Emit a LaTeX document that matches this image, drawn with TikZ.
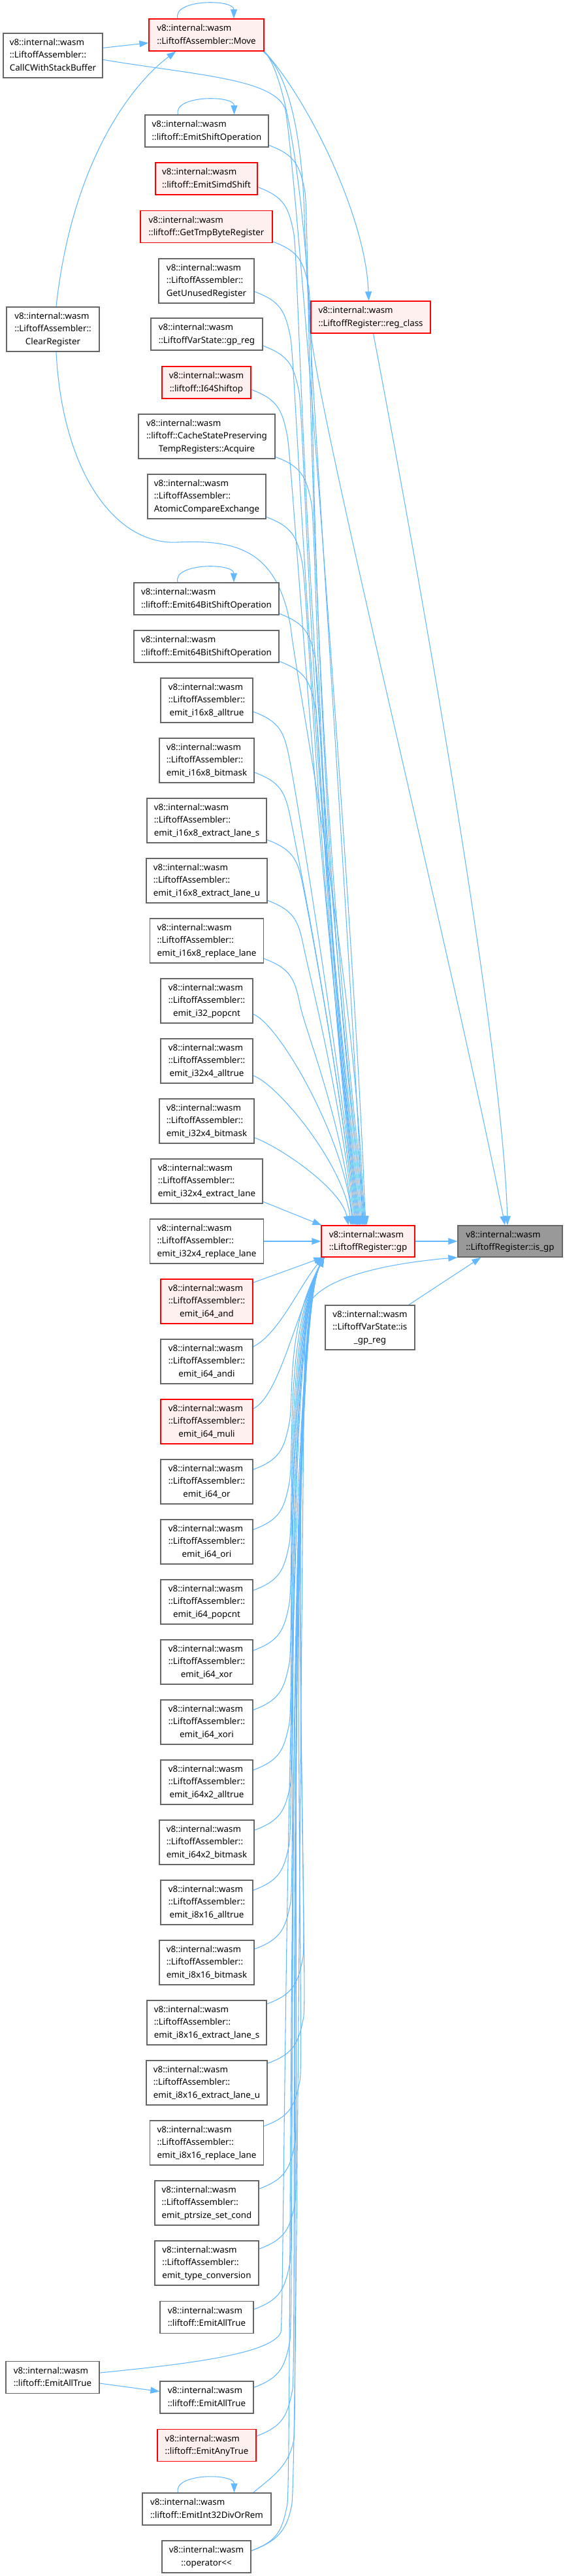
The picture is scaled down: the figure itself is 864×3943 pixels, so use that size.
\documentclass[tikz,border=0pt]{standalone}
\usepackage{fontspec}
\setmainfont{Noto Sans}
\usetikzlibrary{arrows.meta,calc}
\definecolor{edgeblue}{HTML}{63B8FF}
\definecolor{nodeborder}{HTML}{666666}
\definecolor{redfill}{HTML}{FFF0F0}
\definecolor{focusfill}{HTML}{999999}
\pgfdeclarelayer{back}
\pgfdeclarelayer{edges}
\pgfsetlayers{back,edges,main}
\newcommand\TL[3]{\begin{tabular}{@{}l@{}}#1\\#2\\\multicolumn{1}{@{}c@{}}{#3}\end{tabular}}
\newcommand\DL[2]{\begin{tabular}{@{}l@{}}#1\\\multicolumn{1}{@{}c@{}}{#2}\end{tabular}}
\newcommand\vw{v8::internal::wasm}
\newcommand\la{::LiftoffAssembler::}
\newcommand\dnode[7][box]{\node[#1, minimum width={#5*0.75pt}, minimum height={#6*0.75pt}] (#2) at (#3,#4) {#7};}
\begin{document}
\begin{tikzpicture}[x=0.75pt,y=-0.75pt,
  box/.style={draw=nodeborder, line width=1pt, fill=white, inner sep=0pt, text=black, font=\fontsize{10}{14.6}\selectfont},
  redbox/.style={box, draw=red, fill=redfill},
  focus/.style={box, fill=focusfill},
  edge/.style={draw=edgeblue, line width=0.8pt, -{Triangle[length=10.5pt,width=7.5pt]}}]
\useasboundingbox (0,0) rectangle (864,3943);
\begin{pgfonlayer}{back}\fill[white] (0,0) rectangle (864,3943);\end{pgfonlayer}

% ---------- nodes ----------
\dnode[redbox]{move}{316}{53.5}{176}{49}{\DL{\vw}{::LiftoffAssembler::Move}}
\dnode{callc}{81}{85}{152}{68}{\TL{\vw}{\la}{CallCWithStackBuffer}}
\dnode{shiftop}{316.5}{200.5}{189}{49}{\DL{\vw}{::liftoff::EmitShiftOperation}}
\dnode[redbox]{simdshift}{316}{273.5}{156}{49}{\DL{\vw}{::liftoff::EmitSimdShift}}
\dnode[redbox]{tmpbyte}{316}{347}{202}{49}{\DL{\vw}{::liftoff::GetTmpByteRegister}}
\dnode{unused}{316}{430}{146}{68}{\TL{\vw}{\la}{GetUnusedRegister}}
\dnode{clearreg}{81}{504}{142}{68}{\TL{\vw}{\la}{ClearRegister}}
\dnode{gpreg}{316.5}{511.5}{171}{49}{\DL{\vw}{::LiftoffVarState::gp\_reg}}
\dnode[redbox]{regclass}{567.5}{485.5}{183}{49}{\DL{\vw}{::LiftoffRegister::reg\_class}}
\dnode[redbox]{i64shiftop}{316}{585.5}{136}{49}{\DL{\vw}{::liftoff::I64Shiftop}}
\dnode{acquire}{316.5}{668}{209}{68}{\TL{\vw}{::liftoff::CacheStatePreserving}{TempRegisters::Acquire}}
\dnode{atomic}{316.5}{760}{181}{68}{\TL{\vw}{\la}{AtomicCompareExchange}}
\dnode{shift64a}{316}{916.5}{222}{49}{\DL{\vw}{::liftoff::Emit64BitShiftOperation}}
\dnode{shift64b}{316}{989.5}{222}{49}{\DL{\vw}{::liftoff::Emit64BitShiftOperation}}
\foreach \nm/\cyy/\ww/\lab in {
  i16alltrue/1072/141/emit\_i16x8\_alltrue,
  i16bitmask/1164/145/emit\_i16x8\_bitmask,
  i16exs/1256/183/emit\_i16x8\_extract\_lane\_s,
  i16exu/1348/185/emit\_i16x8\_extract\_lane\_u,
  i16rep/1440/174/emit\_i16x8\_replace\_lane,
  i32popcnt/1532/141/emit\_i32\_popcnt,
  i32x4alltrue/1624/141/emit\_i32x4\_alltrue,
  i32x4bitmask/1716/145/emit\_i32x4\_bitmask,
  i32x4ex/1808/171/emit\_i32x4\_extract\_lane,
  i32x4rep/1900/174/emit\_i32x4\_replace\_lane,
  i64andi/2084/141/emit\_i64\_andi,
  i64or/2268/141/emit\_i64\_or,
  i64ori/2360/141/emit\_i64\_ori,
  i64popcnt/2452/141/emit\_i64\_popcnt,
  i64xor/2544/141/emit\_i64\_xor,
  i64xori/2636/141/emit\_i64\_xori,
  i64x2alltrue/2728/141/emit\_i64x2\_alltrue,
  i64x2bitmask/2820/145/emit\_i64x2\_bitmask,
  i8alltrue/2912/141/emit\_i8x16\_alltrue,
  i8bitmask/3004/145/emit\_i8x16\_bitmask,
  i8exs/3096/183/emit\_i8x16\_extract\_lane\_s,
  i8exu/3188/185/emit\_i8x16\_extract\_lane\_u,
  i8rep/3280/174/emit\_i8x16\_replace\_lane,
  ptrsize/3372/159/emit\_ptrsize\_set\_cond,
  typeconv/3464/159/emit\_type\_conversion}{
  \dnode{\nm}{316.5}{\cyy}{\ww}{68}{\TL{\vw}{\la}{\lab}}
}
\dnode[redbox]{i64and}{316.5}{1992}{141}{68}{\TL{\vw}{\la}{emit\_i64\_and}}
\dnode[redbox]{i64muli}{316.5}{2176}{141}{68}{\TL{\vw}{\la}{emit\_i64\_muli}}
\dnode{alltrue1}{316.5}{3547}{143}{49}{\DL{\vw}{::liftoff::EmitAllTrue}}
\dnode{alltrueL}{80.5}{3639}{143}{49}{\DL{\vw}{::liftoff::EmitAllTrue}}
\dnode{alltrue2}{316.5}{3669.5}{143}{49}{\DL{\vw}{::liftoff::EmitAllTrue}}
\dnode[redbox]{anytrue}{316.5}{3743}{151}{49}{\DL{\vw}{::liftoff::EmitAnyTrue}}
\dnode{divrem}{316.5}{3840.5}{197}{49}{\DL{\vw}{::liftoff::EmitInt32DivOrRem}}
\dnode{oplt}{316}{3913.5}{136}{49}{\DL{\vw}{::operator<{}<}}
\dnode[redbox]{gp}{563.5}{1900}{143}{48}{\DL{\vw}{::LiftoffRegister::gp}}
\dnode[focus]{isgp}{781}{1900}{160}{48}{\DL{\vw}{::LiftoffRegister::is\_gp}}
\dnode{isgpreg}{566.5}{2032}{137}{68}{\TL{\vw}{::LiftoffVarState::is}{\_gp\_reg}}

% ---------- edges ----------
\begin{pgfonlayer}{edges}
% self loops
\foreach \nm in {move,shiftop,shift64a,divrem}{
  \draw[edge] ($(\nm.north)+(-44,0)$) .. controls +(-8,-30) and +(0,-30) .. ($(\nm.north)+(42,0)$);
}
% left column
\draw[edge] ($(callc.north east)+(0,23)$) -- ($(move.south west)+(0,-13)$);
\draw[edge] ($(callc.north east)+(0,41)$) .. controls (300,115) and (415,120) .. (436,165)
  .. controls (450,200) and (548,1500) .. ($(gp.north west)+(68,0)$);
\draw[edge] ($(clearreg.north)+(5,0)$) .. controls (110,250) and (200,130) .. ($(move.south west)+(42,0)$);
\draw[edge] ($(clearreg.south)+(5,0)$) .. controls (95,720) and (175,835) .. (272,830)
  .. controls (360,826) and (425,840) .. (445,960)
  .. controls (455,1050) and (545,1500) .. ($(gp.north west)+(66,0)$);
% Move
\draw[edge] (move.south east) .. controls (470,150) and (560,330) .. ($(regclass.north)+(-3,0)$);
\draw[edge] ($(move.south east)+(-2,0)$) .. controls (440,110) and (462,200) .. (466,330)
  .. controls (470,500) and (540,1500) .. ($(gp.north west)+(64,0)$);
\draw[edge] (move.south east) .. controls (448,125) and (470,380) .. (475,500)
  .. controls (482,620) and (700,1500) .. ($(isgp.north)+(-8,0)$);
\draw[edge] ($(regclass.south)+(4,0)$) .. controls (640,870) and (770,1600) .. ($(isgp.north)+(-4,0)$);
% callers above gp
\foreach \nm/\tp/\of/\ee in {shiftop/176/47/70, simdshift/249/38/68, tmpbyte/323/48/66,
  unused/396/51/64, gpreg/487/43/62, i64shiftop/561/36/60, acquire/634/66/60,
  atomic/726/66/58, shift64a/892/48/58, shift64b/965/48/56, i16alltrue/1038/52/56,
  i16bitmask/1130/53/54, i16exs/1222/64/54, i16exu/1314/65/52, i16rep/1406/62/50}{
  \pgfmathsetmacro\dyy{1876-\tp-\of-70}
  \pgfmathsetmacro\cty{-0.5*\dyy}
  \pgfmathsetmacro\ctx{-0.06*\dyy}
  \coordinate (s) at ($(\nm.north east)+(0,\of)$);
  \draw[edge] (s) .. controls +(40,15) and +(-8,-40) .. ($(s)+(55,70)$)
    .. controls +(8,40) and +(\ctx,\cty) .. ($(gp.north west)+(\ee,0)$);
}
\draw[edge] ($(i32popcnt.north east)+(0,55)$) .. controls +(40,15) and +(-10,-130) .. ($(gp.north west)+(48,0)$);
\draw[edge] ($(i32x4alltrue.north east)+(0,57)$) .. controls +(40,15) and +(-10,-90) .. ($(gp.north west)+(46,0)$);
\draw[edge] ($(i32x4bitmask.north east)+(0,60)$) .. controls +(40,15) and +(-10,-55) .. ($(gp.north west)+(42,0)$);
\draw[edge] ($(i32x4ex.north east)+(0,66)$) -- ($(gp.north west)+(1,0)$);
\draw[edge] (i32x4rep.east) -- (gp.west);
% callers below gp
\draw[edge] ($(i64and.north east)+(-3,7)$) -- ($(gp.south west)+(3,0)$);
\draw[edge] ($(i64andi.north east)+(0,12)$) .. controls +(40,-20) and +(-35,40) .. ($(gp.south west)+(4,0)$);
\draw[edge] ($(i64muli.north east)+(0,15)$) .. controls +(40,-20) and +(-45,90) .. ($(gp.south west)+(5,0)$);
\foreach \nm/\of in {i64or/16, i64ori/16, i64popcnt/17, i64xor/17, i64xori/16, i64x2alltrue/16,
  i64x2bitmask/16, i8alltrue/16, i8bitmask/14, i8exs/6, i8exu/5, i8rep/9, ptrsize/13,
  typeconv/13, alltrue1/13, alltrue2/10, anytrue/11, oplt/16}{
  \coordinate (s) at ($(\nm.north east)+(0,\of)$);
  \draw[edge] (s) .. controls +(40,-15) and +(-8,40) .. ($(s)+(55,-70)$)
    .. controls +(8,-40) and +(-60,110) .. ($(gp.south west)+(5,0)$);
}
\coordinate (sd) at ($(divrem.north east)+(-28,0)$);
\draw[edge] (sd) .. controls +(30,-25) and +(-8,40) .. ($(sd)+(62,-80)$)
  .. controls +(8,-40) and +(-60,110) .. ($(gp.south west)+(5,0)$);
\coordinate (so) at ($(oplt.north east)+(0,16)$);
\draw[edge] (so) .. controls +(40,-15) and +(-8,40) .. ($(so)+(62,-70)$)
  .. controls +(8,-40) and (462,2150) .. (468,2010)
  .. controls (474,1960) and (580,1935) .. (isgp.south west);
% EmitAllTrue (left)
\draw[edge] ($(alltrueL.east)+(0,9)$) -- ($(alltrue2.west)+(0,-9)$);
\draw[edge] ($(alltrueL.east)+(0,-7)$) .. controls (270,3620) and (415,3605) .. (430,3570)
  .. controls (436,3530) and (437,2035) .. ($(gp.south west)+(5,0)$);
% into is_gp
\draw[edge] (gp.east) -- (isgp.west);
\draw[edge] ($(isgpreg.north east)+(-10,0)$) -- ($(isgp.south west)+(36,0)$);
\end{pgfonlayer}
\end{tikzpicture}
\end{document}
